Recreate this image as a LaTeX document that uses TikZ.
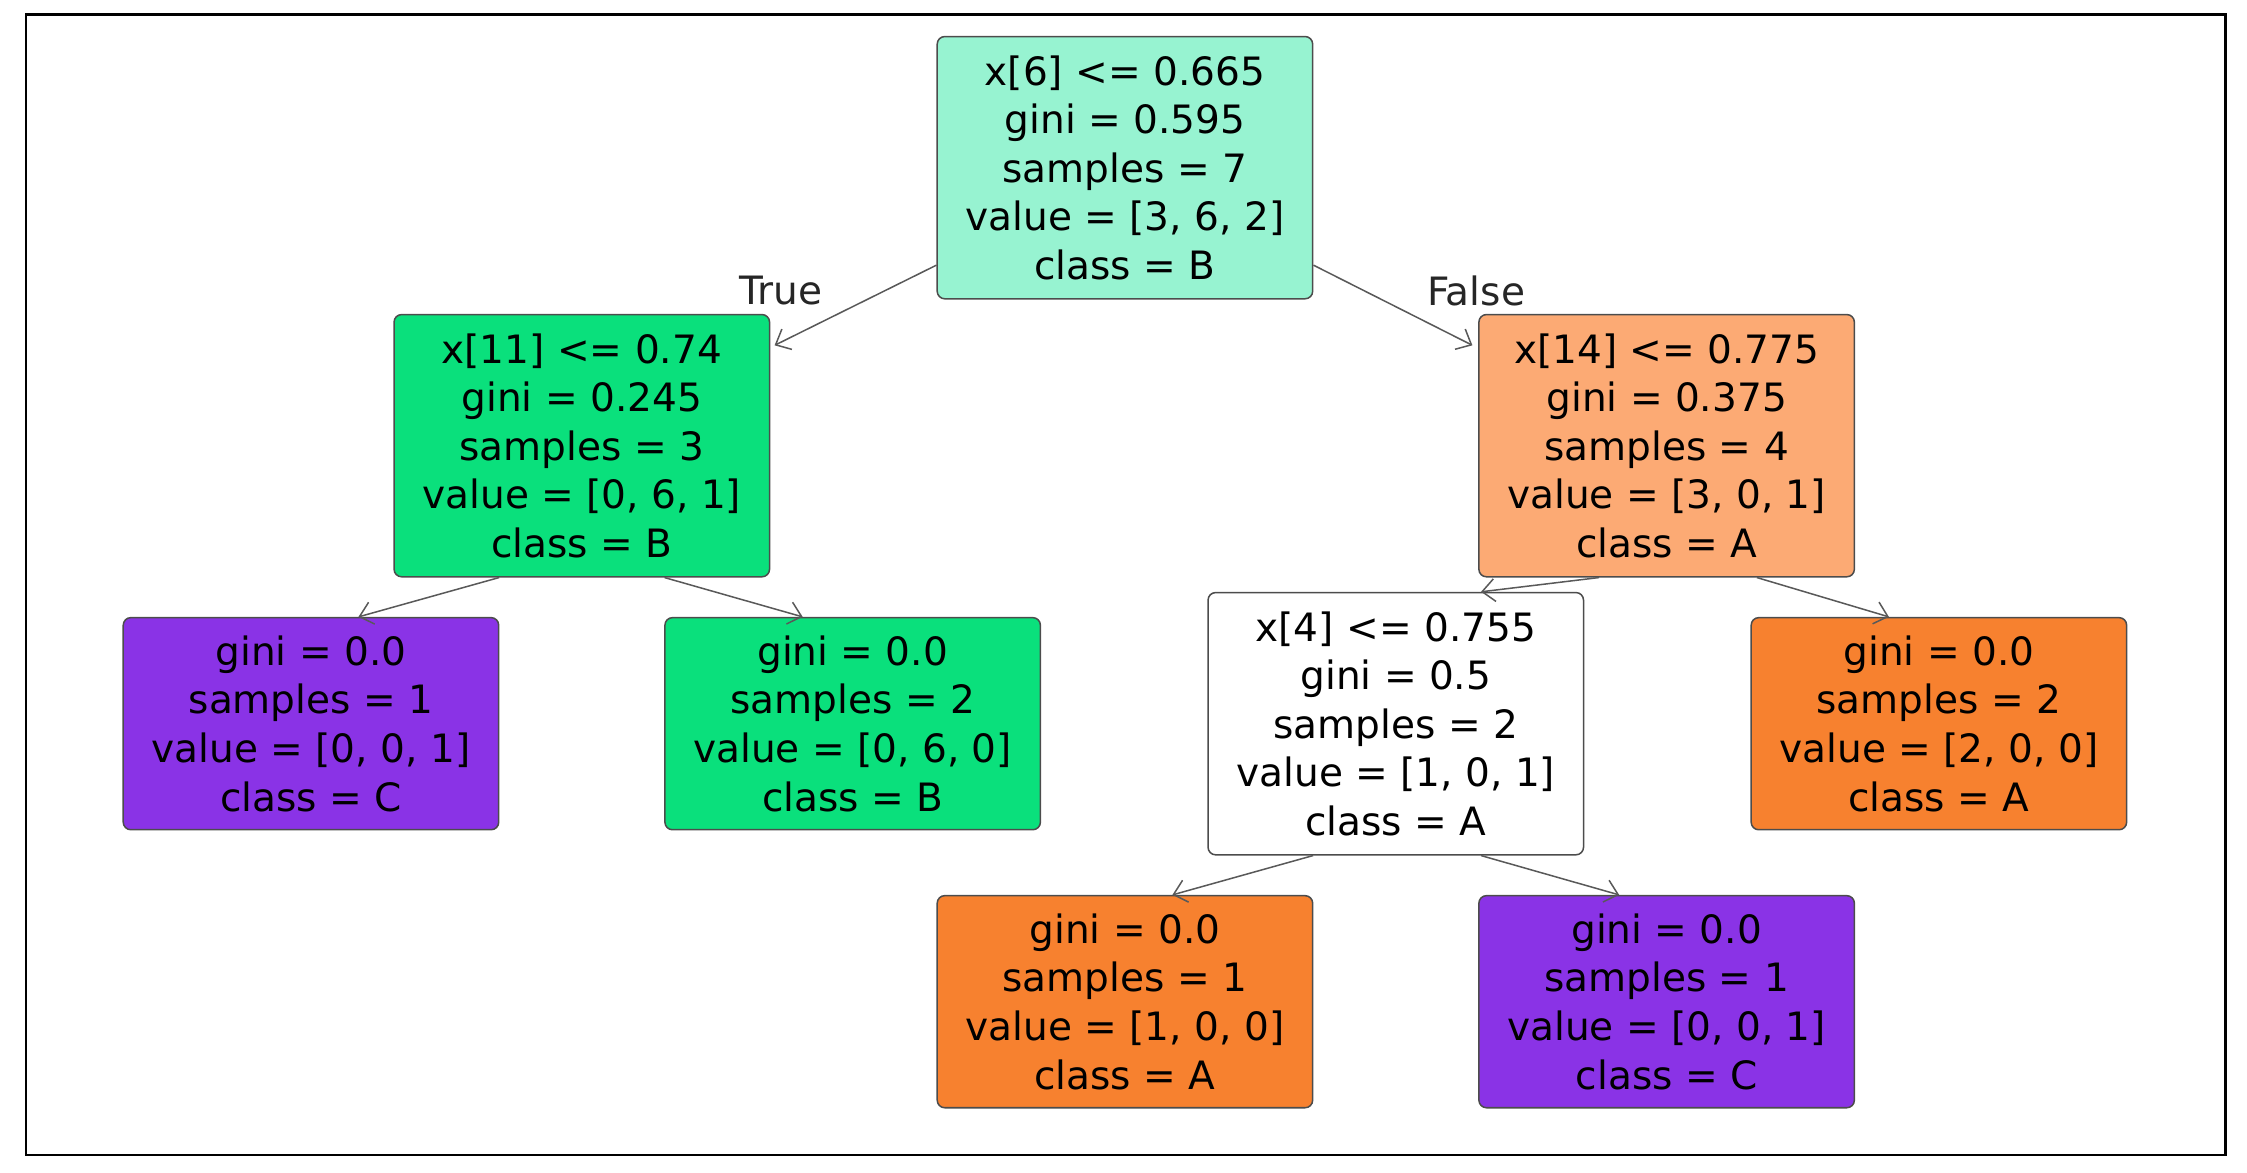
\documentclass[tikz,border=0pt]{standalone}
\usepackage{fontspec}
\setmainfont{DejaVu Sans}
\usetikzlibrary{arrows.meta}
\definecolor{cA}{HTML}{F7812F}
\definecolor{cAl}{HTML}{FCAA74}
\definecolor{cB}{HTML}{0AE07C}
\definecolor{cBl}{HTML}{97F3D1}
\definecolor{cC}{HTML}{8A33E6}
\tikzset{
  tbox/.style={draw=black!70, rounded corners=3pt, line width=0.6pt, align=center,
    font=\fontsize{15.5}{19.3}\selectfont, minimum width=52.4mm, inner sep=0pt},
  big/.style={minimum height=36.6mm},
  small/.style={minimum height=29.6mm},
  edge/.style={draw=black!65, line width=0.6pt, -{Straight Barb[length=5pt,width=9pt]}},
  lab/.style={font=\fontsize{15.5}{19}\selectfont, text=black!85}
}
\begin{document}
\begin{tikzpicture}[x=0.2mm,y=-0.2mm]
\useasboundingbox (0,0) rectangle (1568,818);
\draw[line width=1pt] (18,10) rectangle (1553,806);
\node[tbox,big,fill=cBl] (root) at (785,117) {x[6] <= 0.665\\gini = 0.595\\samples = 7\\value = [3, 6, 2]\\class = B};
\node[tbox,big,fill=cB] (l1) at (406,311) {x[11] <= 0.74\\gini = 0.245\\samples = 3\\value = [0, 6, 1]\\class = B};
\node[tbox,big,fill=cAl] (r1) at (1163,311) {x[14] <= 0.775\\gini = 0.375\\samples = 4\\value = [3, 0, 1]\\class = A};
\node[tbox,small,fill=cC] (ll) at (217,505) {gini = 0.0\\samples = 1\\value = [0, 0, 1]\\class = C};
\node[tbox,small,fill=cB] (lr) at (595,505) {gini = 0.0\\samples = 2\\value = [0, 6, 0]\\class = B};
\node[tbox,big,fill=white] (rl) at (974,505) {x[4] <= 0.755\\gini = 0.5\\samples = 2\\value = [1, 0, 1]\\class = A};
\node[tbox,small,fill=cA] (rr) at (1353,505) {gini = 0.0\\samples = 2\\value = [2, 0, 0]\\class = A};
\node[tbox,small,fill=cA] (rll) at (785,699) {gini = 0.0\\samples = 1\\value = [1, 0, 0]\\class = A};
\node[tbox,small,fill=cC] (rlr) at (1163,699) {gini = 0.0\\samples = 1\\value = [0, 0, 1]\\class = C};
\draw[edge] ([shift={(0,-24)}]root.south west) -- ([shift={(3,22)}]l1.north east);
\draw[edge] ([shift={(0,-24)}]root.south east) -- ([shift={(-4,22)}]r1.north west);
\node[lab] (t) at (545,203) {True};
\node[lab] (f) at (1030,203) {False};
\draw[edge] ([xshift=42]l1.south west) -- ([xshift=-56]ll.north east);
\draw[edge] ([xshift=-42]l1.south east) -- ([xshift=55]lr.north west);
\draw[edge] ([xshift=48]r1.south west) -- ([xshift=-41]rl.north east);
\draw[edge] ([xshift=-39]r1.south east) -- ([xshift=55]rr.north west);
\draw[edge] ([xshift=42]rl.south west) -- ([xshift=-56]rll.north east);
\draw[edge] ([xshift=-41]rl.south east) -- ([xshift=56]rlr.north west);
\end{tikzpicture}
\end{document}
